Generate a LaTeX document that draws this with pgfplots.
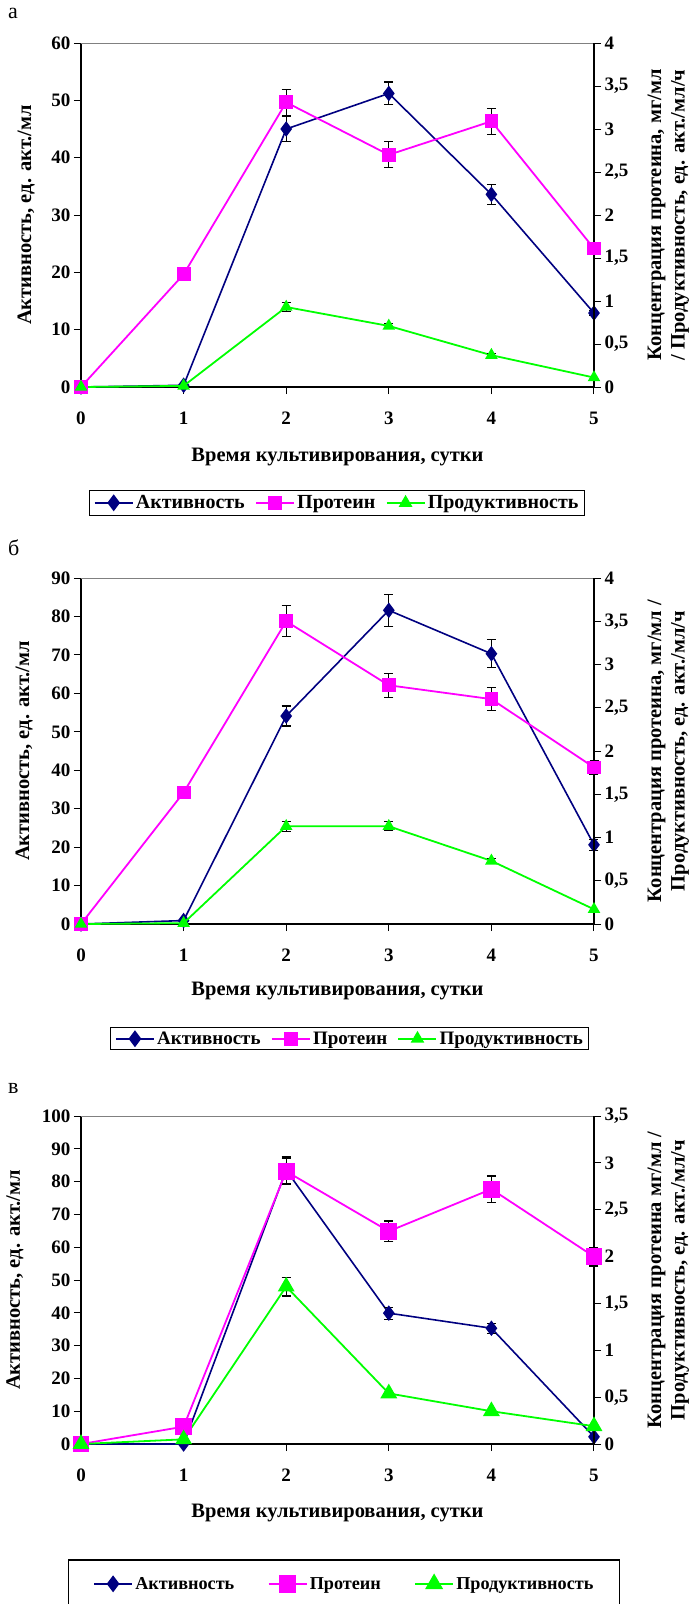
\documentclass[border=0pt]{standalone}
\usepackage{fontspec}
\setmainfont{Liberation Serif}
\usepackage{pgfplots}
\pgfplotsset{compat=1.18}
\definecolor{navy}{RGB}{0,0,128}
\definecolor{mag}{RGB}{255,0,255}
\definecolor{grn}{RGB}{0,255,0}
\newcommand\F{\fontsize{19}{23}\selectfont\bfseries}
\newcommand\FL{\fontsize{20.5}{23.5}\selectfont\bfseries}
\tikzset{
  act/.style={color=navy, line width=1.6pt, mark=diamond*, mark size=6.5pt, mark options={solid, fill=navy}},
  prot/.style={color=mag, line width=1.8pt, mark=square*, mark size=6pt, mark options={solid, fill=mag}},
  prod/.style={color=grn, line width=1.8pt, mark=triangle*, mark size=5.5pt, mark options={solid, fill=grn}},
  protc/.style={prot, mark size=7.5pt},
  prodc/.style={prod, mark size=8pt},
}
\pgfplotsset{
  eb/.style={error bars/.cd, y dir=both, y explicit,
    error bar style={black, line width=1.1pt, solid},
    error mark options={rotate=90, black, line width=1.1pt, mark size=4.5pt, solid}},
  base/.style={
    scale only axis, width=513pt, xmin=0, xmax=5, xtick={0,...,5}, clip=false,
    tick align=outside, major tick length=7pt,
    tick style={black, line width=1pt},
    axis line style={black, line width=1.2pt},
    tick label style={font=\F},
    label style={font=\FL},
    /pgf/number format/use comma,
    /pgf/number format/assume math mode=true,
    /pgf/number format/1000 sep={},
    legend image code/.code={\draw[mark repeat=2, mark phase=2, ##1, line width=2.4pt] plot coordinates {(0pt,0pt) (19pt,0pt) (38pt,0pt)};},
  },
  leftax/.style={base, axis x line*=bottom, axis y line*=left,
    xticklabel style={anchor=center, yshift=-24pt},
  },
  rightax/.style={base, axis y line*=right, axis x line=none,
    every axis y label/.style={at={(axis description cs:1.145,0.5)}, anchor=center, rotate=90, align=center, font=\FL},
  },
}
\begin{document}
\begin{tikzpicture}
\path[use as bounding box] (0pt,0pt) rectangle (692pt,-1604pt);
\clip (0pt,0pt) rectangle (692pt,-1604pt);
\node[anchor=base west, font=\fontsize{22}{26}\selectfont, inner sep=0pt] at (8pt,-18pt) {а};
\node[anchor=base west, font=\fontsize{22}{26}\selectfont, inner sep=0pt] at (8pt,-555pt) {б};
\node[anchor=base west, font=\fontsize{22}{26}\selectfont, inner sep=0pt] at (8pt,-1093pt) {в};

% ---------------- panel a
\begin{axis}[leftax, at={(81pt,-387pt)}, anchor=south west, height=344pt,
  ymin=0, ymax=60, ytick distance=10,
  ylabel={Активность, ед. акт./мл},
  ylabel style={at={(axis description cs:-0.107,0.5)}, anchor=center},
  xlabel={Время культивирования, сутки},
  xlabel style={at={(axis description cs:0.5,-0.2035)}, anchor=center}]
\draw[gray, line width=1pt] (rel axis cs:0,1) -- (rel axis cs:1,1);
\addplot[act, eb] coordinates {(0,0) (1,0.3) (2,45.0) +- (0,2.2) (3,51.2) +- (0,2.0) (4,33.6) +- (0,1.7) (5,12.9) +- (0,0.5)};
\end{axis}
\begin{axis}[rightax, at={(81pt,-387pt)}, anchor=south west, height=344pt,
  ymin=0, ymax=4, ytick distance=0.5,
  ylabel={Концентрация протеина, мг/мл\\/ Продуктивность, ед. акт./мл/ч},
  legend style={at={(axis description cs:0.499,-0.299)}, anchor=north, legend columns=3,
    draw=black, line width=1.2pt, font=\fontsize{20}{24}\selectfont\bfseries,
    inner xsep=4pt, inner ysep=3pt, /tikz/every even column/.append style={column sep=8pt}}]
\addlegendimage{act}\addlegendentry{Активность}
\addplot[prot, eb] coordinates {(0,0) (1,1.31) +- (0,0.05) (2,3.31) +- (0,0.15) (3,2.70) +- (0,0.15) (4,3.09) +- (0,0.15) (5,1.61) +- (0,0.07)};
\addlegendentry{Протеин}
\addplot[prod, eb] coordinates {(0,0) (1,0.013) (2,0.93) +- (0,0.05) (3,0.71) +- (0,0.03) (4,0.37) +- (0,0.02) (5,0.11)};
\addlegendentry{Продуктивность}
\end{axis}

% ---------------- panel b
\begin{axis}[leftax, at={(81pt,-924pt)}, anchor=south west, height=346pt,
  ymin=0, ymax=90, ytick distance=10,
  ylabel={Активность, ед. акт./мл},
  ylabel style={at={(axis description cs:-0.111,0.5)}, anchor=center},
  xlabel={Время культивирования, сутки},
  xlabel style={at={(axis description cs:0.5,-0.194)}, anchor=center}]
\draw[gray, line width=1pt] (rel axis cs:0,1) -- (rel axis cs:1,1);
\addplot[act, eb] coordinates {(0,0) (1,0.9) (2,54.1) +- (0,2.6) (3,81.6) +- (0,4.2) (4,70.3) +- (0,3.6) (5,20.6) +- (0,1.5)};
\end{axis}
\begin{axis}[rightax, at={(81pt,-924pt)}, anchor=south west, height=346pt,
  ymin=0, ymax=4, ytick distance=0.5,
  ylabel={Концентрация протеина, мг/мл /\\Продуктивность, ед. акт./мл/ч},
  legend style={at={(axis description cs:0.524,-0.298)}, anchor=north, legend columns=3,
    draw=black, line width=1.2pt, font=\fontsize{19}{23}\selectfont\bfseries,
    inner xsep=4pt, inner ysep=2pt, /tikz/every even column/.append style={column sep=8pt}}]
\addlegendimage{act}\addlegendentry{Активность}
\addplot[prot, eb] coordinates {(0,0) (1,1.52) +- (0,0.06) (2,3.50) +- (0,0.18) (3,2.76) +- (0,0.14) (4,2.60) +- (0,0.13) (5,1.81) +- (0,0.08)};
\addlegendentry{Протеин}
\addplot[prod, eb] coordinates {(0,0) (1,0.01) (2,1.13) +- (0,0.06) (3,1.13) +- (0,0.05) (4,0.73) +- (0,0.03) (5,0.17)};
\addlegendentry{Продуктивность}
\end{axis}

% ---------------- panel c
\begin{axis}[leftax, at={(81pt,-1444pt)}, anchor=south west, height=328pt,
  ymin=0, ymax=100, ytick distance=10,
  ylabel={Активность, ед. акт./мл},
  ylabel style={at={(axis description cs:-0.129,0.5)}, anchor=center},
  xlabel={Время культивирования, сутки},
  xlabel style={at={(axis description cs:0.5,-0.21)}, anchor=center}]
\draw[gray, line width=1pt] (rel axis cs:0,1) -- (rel axis cs:1,1);
\addplot[act, eb] coordinates {(0,0) (1,0) (2,83.5) +- (0,4) (3,39.9) +- (0,1.8) (4,35.3) +- (0,1.5) (5,2.2)};
\end{axis}
\begin{axis}[rightax, at={(81pt,-1444pt)}, anchor=south west, height=328pt,
  ymin=0, ymax=3.5, ytick distance=0.5,
  ylabel={Концентрация протеина мг/мл /\\Продуктивность, ед. акт./мл/ч},
  legend style={at={(axis description cs:0.513,-0.352)}, anchor=north, legend columns=3,
    draw=black, line width=1.2pt, font=\fontsize{18.2}{22}\selectfont\bfseries,
    inner xsep=24pt, inner ysep=15pt, /tikz/every even column/.append style={column sep=31pt}}]
\addlegendimage{act}\addlegendentry{Активность}
\addplot[protc, eb] coordinates {(0,0) (1,0.185) +- (0,0.03) (2,2.91) +- (0,0.14) (3,2.27) +- (0,0.11) (4,2.72) +- (0,0.14) (5,2.00) +- (0,0.1)};
\addlegendentry{Протеин}
\addplot[prodc, eb] coordinates {(0,0) (1,0.05) (2,1.68) +- (0,0.1) (3,0.54) (4,0.35) +- (0,0.02) (5,0.19)};
\addlegendentry{Продуктивность}
\end{axis}
\end{tikzpicture}
\end{document}
